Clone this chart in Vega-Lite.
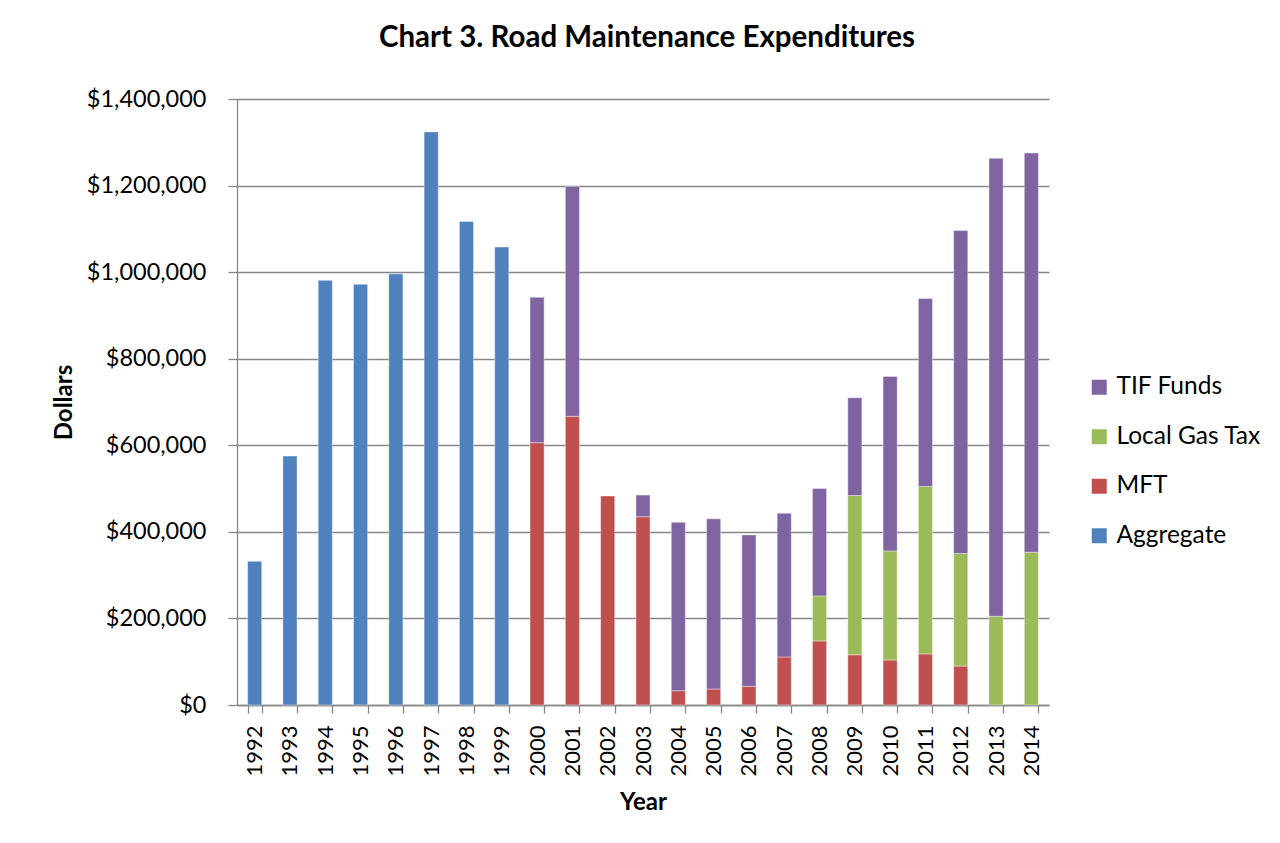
{
  "$schema": "https://vega.github.io/schema/vega-lite/v6.json",
  "autosize": {"type": "none"},
  "width": 812,
  "height": 606,
  "padding": {"left": 237, "top": 99, "right": 231, "bottom": 138},
  "background": "white",
  "title": {
    "text": "Chart 3. Road Maintenance Expenditures",
    "font": "Lato",
    "fontSize": 29.5,
    "fontWeight": "bold",
    "color": "black",
    "anchor": "middle",
    "offset": 34,
    "dx": 4
  },
  "config": {
    "font": "Lato",
    "view": {"stroke": null},
    "axis": {
      "labelFont": "Lato",
      "labelColor": "black",
      "titleFont": "Lato",
      "titleColor": "black",
      "titleFontWeight": "bold",
      "domainColor": "#868686",
      "tickColor": "#868686",
      "gridColor": "#868686",
      "domainWidth": 1.3,
      "tickWidth": 1.3,
      "gridWidth": 1.3
    }
  },
  "data": {
    "values": [
      {"year": "1992", "series": "Aggregate", "value": 332000},
      {"year": "1993", "series": "Aggregate", "value": 575000},
      {"year": "1994", "series": "Aggregate", "value": 981000},
      {"year": "1995", "series": "Aggregate", "value": 972000},
      {"year": "1996", "series": "Aggregate", "value": 996000},
      {"year": "1997", "series": "Aggregate", "value": 1324000},
      {"year": "1998", "series": "Aggregate", "value": 1117000},
      {"year": "1999", "series": "Aggregate", "value": 1058000},
      {"year": "2000", "series": "MFT", "value": 606000},
      {"year": "2000", "series": "TIF Funds", "value": 336000},
      {"year": "2001", "series": "MFT", "value": 667000},
      {"year": "2001", "series": "TIF Funds", "value": 531000},
      {"year": "2002", "series": "MFT", "value": 483000},
      {"year": "2003", "series": "MFT", "value": 435000},
      {"year": "2003", "series": "TIF Funds", "value": 50000},
      {"year": "2004", "series": "MFT", "value": 33000},
      {"year": "2004", "series": "TIF Funds", "value": 389000},
      {"year": "2005", "series": "MFT", "value": 37000},
      {"year": "2005", "series": "TIF Funds", "value": 393000},
      {"year": "2006", "series": "MFT", "value": 43000},
      {"year": "2006", "series": "TIF Funds", "value": 350000},
      {"year": "2007", "series": "MFT", "value": 111000},
      {"year": "2007", "series": "TIF Funds", "value": 332000},
      {"year": "2008", "series": "MFT", "value": 148000},
      {"year": "2008", "series": "Local Gas Tax", "value": 104000},
      {"year": "2008", "series": "TIF Funds", "value": 248000},
      {"year": "2009", "series": "MFT", "value": 116000},
      {"year": "2009", "series": "Local Gas Tax", "value": 368000},
      {"year": "2009", "series": "TIF Funds", "value": 226000},
      {"year": "2010", "series": "MFT", "value": 104000},
      {"year": "2010", "series": "Local Gas Tax", "value": 252000},
      {"year": "2010", "series": "TIF Funds", "value": 403000},
      {"year": "2011", "series": "MFT", "value": 118000},
      {"year": "2011", "series": "Local Gas Tax", "value": 387000},
      {"year": "2011", "series": "TIF Funds", "value": 434000},
      {"year": "2012", "series": "MFT", "value": 90000},
      {"year": "2012", "series": "Local Gas Tax", "value": 260000},
      {"year": "2012", "series": "TIF Funds", "value": 746000},
      {"year": "2013", "series": "Local Gas Tax", "value": 205000},
      {"year": "2013", "series": "TIF Funds", "value": 1058000},
      {"year": "2014", "series": "Local Gas Tax", "value": 353000},
      {"year": "2014", "series": "TIF Funds", "value": 922000}
    ]
  },
  "transform": [
    {"calculate": "indexof(['Aggregate', 'MFT', 'Local Gas Tax', 'TIF Funds'], datum.series)", "as": "stack_rank"}
  ],
  "mark": {"type": "bar", "stroke": "white", "strokeWidth": 0.8, "strokeOpacity": 0.5},
  "encoding": {
    "x": {
      "field": "year",
      "type": "ordinal",
      "scale": {"paddingInner": 0.6, "paddingOuter": 0.3},
      "axis": {
        "title": "Year",
        "titleFontSize": 24,
        "titlePadding": 14,
        "labelAngle": -90,
        "labelFontSize": 22,
        "labelPadding": 12,
        "tickSize": 8,
        "tickBand": "extent",
        "grid": false
      }
    },
    "y": {
      "field": "value",
      "type": "quantitative",
      "stack": "zero",
      "scale": {"domain": [0, 1400000], "nice": false},
      "axis": {
        "title": "Dollars",
        "titleFontSize": 24,
        "titlePadding": 10,
        "values": [0, 200000, 400000, 600000, 800000, 1000000, 1200000, 1400000],
        "format": "$,.0f",
        "labelFontSize": 23.5,
        "labelPadding": 22,
        "tickSize": 9,
        "grid": true
      }
    },
    "order": {"field": "stack_rank", "type": "quantitative", "sort": "ascending"},
    "color": {
      "field": "series",
      "type": "nominal",
      "scale": {
        "domain": ["TIF Funds", "Local Gas Tax", "MFT", "Aggregate"],
        "range": ["#8064A2", "#9BBB59", "#C0504D", "#4F81BD"]
      },
      "legend": {
        "title": null,
        "orient": "none",
        "legendX": 850,
        "legendY": 276,
        "symbolType": "square",
        "symbolSize": 225,
        "symbolStrokeWidth": 0,
        "labelFontSize": 24.5,
        "labelFont": "Lato",
        "labelColor": "black",
        "labelOffset": 5,
        "rowPadding": 24.5
      }
    }
  }
}
